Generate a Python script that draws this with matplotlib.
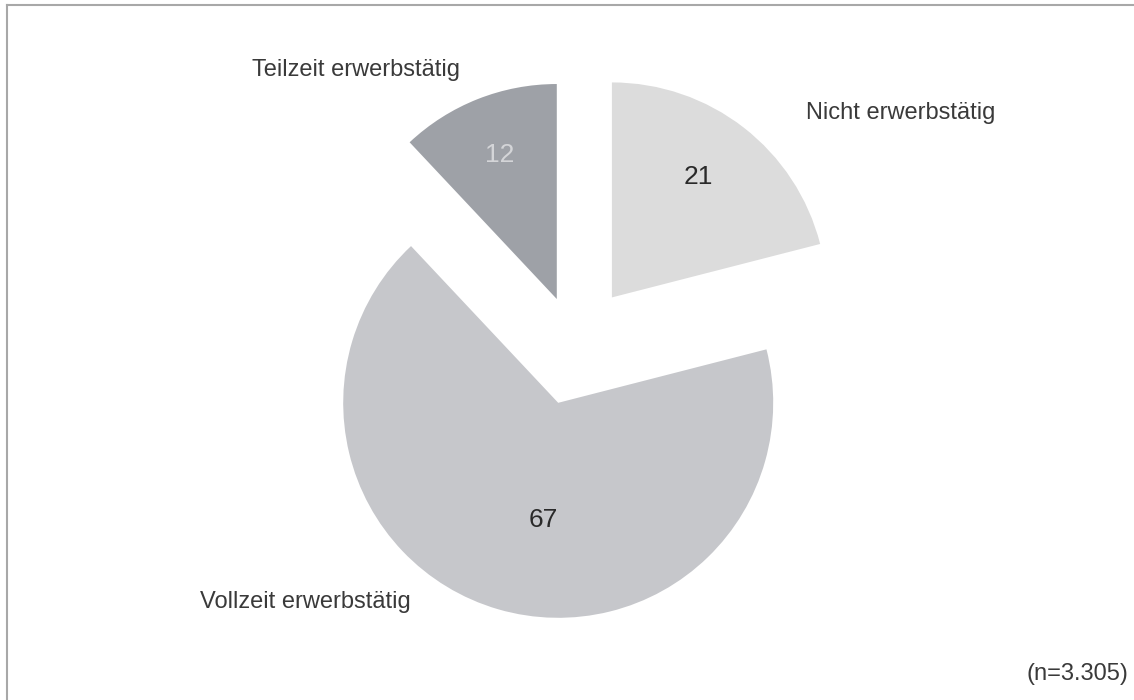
import numpy as np
import matplotlib
matplotlib.use("Agg")
import matplotlib.pyplot as plt

plt.rcParams['font.family'] = ['Liberation Sans', 'DejaVu Sans']

# Erwerbsstatus, Anteile in Prozent
categories = ['Nicht erwerbstätig', 'Vollzeit erwerbstätig', 'Teilzeit erwerbstätig']
values = [21, 67, 12]
n_total = '3.305'

colors = ['#dcdcdc', '#c6c7cb', '#9ea1a7']
value_colors = ['#2a2a2a', '#2a2a2a', '#d4d5d8']
explode = [0.28, 0.28, 0.23]
value_dist = [0.69, 0.55, 0.72]
value_turn = [2, 9, 0]
# label anchor points in figure fractions
label_pos = [(0.794, 0.839), (0.269, 0.140), (0.314, 0.900)]

fig = plt.figure(figsize=(11.34, 7), dpi=100)
ax = fig.add_axes([0, 0, 1, 1])

wedges, _ = ax.pie(values, colors=colors, explode=explode, startangle=90,
                   counterclock=False, radius=1.0,
                   wedgeprops=dict(linewidth=0))

# one data unit = 215 px, pie centre at (575, 345) px from top-left
scale = 215.0
ax.set_xlim(-575 / scale, (1134 - 575) / scale)
ax.set_ylim(-(700 - 345) / scale, 345 / scale)
ax.set_aspect('equal')
ax.axis('off')

for w, v, d, t, c in zip(wedges, values, value_dist, value_turn, value_colors):
    mid = np.deg2rad((w.theta1 + w.theta2) / 2 + t)
    cx, cy = w.center
    ax.text(cx + d * np.cos(mid), cy + d * np.sin(mid), str(v),
            ha='center', va='center', fontsize=19, color=c)

for (x, y), name in zip(label_pos, categories):
    fig.text(x, y, name, ha='center', va='center', fontsize=17, color='#3a3a3a')

fig.text(0.995, 0.037, f'(n={n_total})', ha='right', va='center',
         fontsize=17, color='#3a3a3a')

# thin frame along top and left edge
fig.add_artist(plt.Line2D([0.006, 1.0], [0.993, 0.993], color='#a8a8a8',
                          linewidth=1.5, transform=fig.transFigure))
fig.add_artist(plt.Line2D([0.006, 0.006], [0.0, 0.993], color='#a8a8a8',
                          linewidth=1.5, transform=fig.transFigure))

fig.savefig('out.png', dpi=100, facecolor='white')
